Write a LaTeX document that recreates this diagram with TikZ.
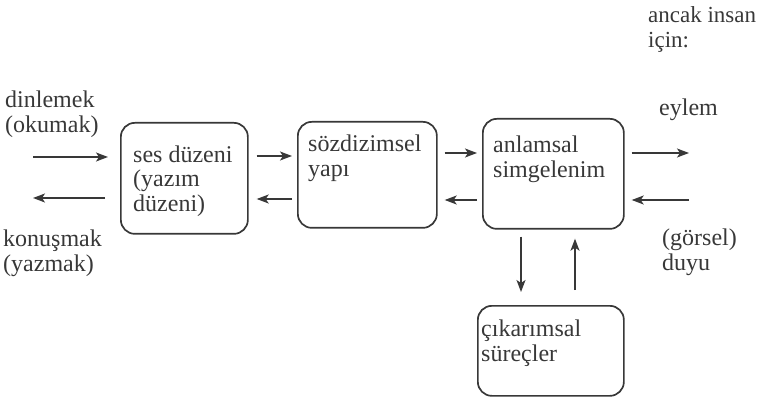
\documentclass[tikz,border=0pt]{standalone}
\usepackage{fontspec}
\setmainfont{Liberation Serif}
\usetikzlibrary{arrows.meta}
\definecolor{ink}{HTML}{383838}
\begin{document}
\begin{tikzpicture}[x=1pt,y=-1pt,
  box/.style={draw=ink, line width=1.7pt, rounded corners=14pt, anchor=north west, inner sep=0pt},
  lbl/.style={anchor=base west, inner sep=0pt, text=ink, font=\fontsize{24}{25}\selectfont, align=left},
  arr/.style={draw=ink, line width=1.5pt, -{Stealth[length=12pt,width=9pt,inset=3pt]}}]
\useasboundingbox (0,0) rectangle (758,398);
% boxes
\node[box, minimum width=127, minimum height=111] (b1) at (120,122) {};
\node[box, minimum width=139, minimum height=106] (b2) at (297,121) {};
\node[box, minimum width=141, minimum height=110] (b3) at (482,118) {};
\node[box, minimum width=146, minimum height=90] (b4) at (477,305) {};
% box texts
\node[lbl] (t1a) at (133,163) {ses düzeni};
\node[lbl] (t1b) at (133,187) {(yazım};
\node[lbl] (t1c) at (133,212) {düzeni)};
\node[lbl] (t2a) at (308,152) {sözdizimsel};
\node[lbl] (t2b) at (308,177) {yapı};
\node[lbl] (t3a) at (493,153) {anlamsal};
\node[lbl] (t3b) at (493,178) {simgelenim};
\node[lbl] (t4a) at (481,336) {çıkarımsal};
\node[lbl] (t4b) at (481,361) {süreçler};
% outer labels
\node[lbl] (l1a) at (5,108) {dinlemek};
\node[lbl] (l1b) at (5,133) {(okumak)};
\node[lbl] (l2a) at (3,247) {konuşmak};
\node[lbl] (l2b) at (3,272) {(yazmak)};
\node[lbl, font=\fontsize{23}{25}\selectfont] (l3a) at (648,23) {ancak insan};
\node[lbl, font=\fontsize{23}{25}\selectfont] (l3b) at (648,48) {için:};
\node[lbl] (l4) at (659,116) {eylem};
\node[lbl] (l5a) at (662,246) {(görsel)};
\node[lbl] (l5b) at (662,271) {duyu};
% free ends
\coordinate (inL) at (33,157);
\coordinate (outL) at (33,198);
\coordinate (outR) at (689,153);
\coordinate (inR) at (689,200);
% connectors
\draw[arr, shorten >=12pt] (inL) -- (b1.west |- inL);
\draw[arr, shorten <=15pt] (b1.west |- outL) -- (outL);
\draw[arr, shorten <=8pt, shorten >=5pt] (b1.east |- 0,156) -- (b2.west |- 0,156);
\draw[arr, shorten <=5pt, shorten >=8pt] (b2.west |- 0,199) -- (b1.east |- 0,199);
\draw[arr, shorten <=7pt, shorten >=5pt] (b2.east |- 0,153) -- (b3.west |- 0,153);
\draw[arr, shorten <=5pt, shorten >=7pt] (b3.west |- 0,200) -- (b2.east |- 0,200);
\draw[arr, shorten <=7pt] (b3.east |- outR) -- (outR);
\draw[arr, shorten >=7pt] (inR) -- (b3.east |- inR);
\draw[arr, shorten <=7pt, shorten >=13pt] (b3.south -| 521,0) -- (b4.north -| 521,0);
\draw[arr, shorten <=15pt, shorten >=9pt] (b4.north -| 575,0) -- (b3.south -| 575,0);
\end{tikzpicture}
\end{document}
